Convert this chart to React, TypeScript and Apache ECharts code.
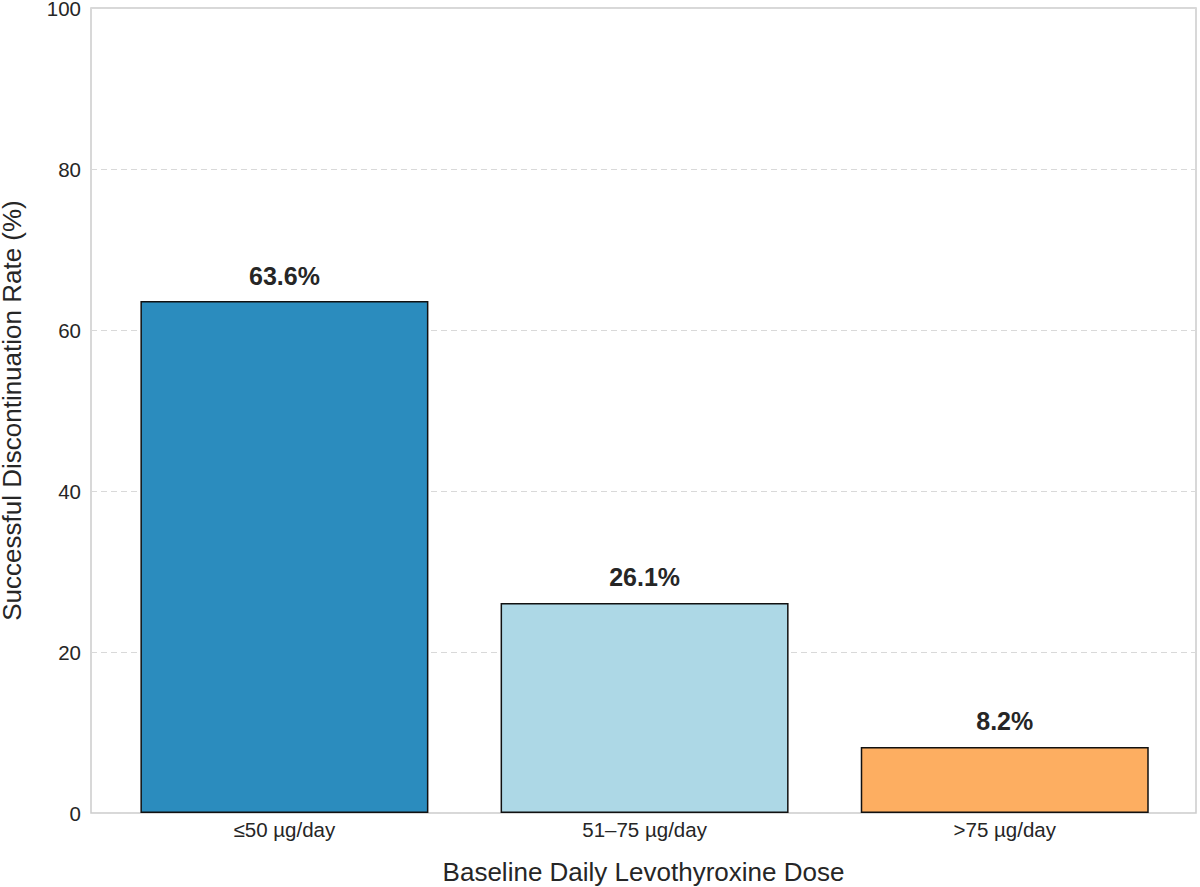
import React, { useEffect, useRef } from "react";
import * as echarts from "echarts";

const categories = ["≤50 µg/day", "51–75 µg/day", ">75 µg/day"];
const rates = [63.6, 26.1, 8.2];
const barColors = ["#2b8cbe", "#add8e6", "#fdae61"];
const yTicks = [0, 20, 40, 60, 80, 100];

export default function App() {
  const ref = useRef<HTMLDivElement>(null);
  useEffect(() => {
    document.body.style.margin = "0";
    const chart = echarts.init(ref.current!, null, { renderer: "svg" });
    const font = "Liberation Sans, Arial, sans-serif";
    chart.setOption({
      animation: false,
      backgroundColor: "#ffffff",
      grid: {
        left: 91,
        right: 4,
        top: 8,
        bottom: 74,
        outerBoundsMode: "none",
        containLabel: false,
        show: true,
        borderColor: "#cccccc",
        borderWidth: 1.5,
        backgroundColor: "transparent",
      },
      xAxis: {
        type: "value",
        min: -0.537,
        max: 2.531,
        name: "Baseline Daily Levothyroxine Dose",
        nameLocation: "middle",
        nameGap: 46,
        nameTextStyle: { fontFamily: font, fontSize: 26, color: "#262626" },
        axisLine: { show: false },
        axisTick: { show: false },
        splitLine: { show: false },
        axisLabel: {
          customValues: [0, 1, 2],
          formatter: (v: number) => categories[Math.round(v)] ?? "",
          fontFamily: font,
          fontSize: 20.5,
          color: "#262626",
          margin: 6,
        },
      },
      yAxis: {
        type: "value",
        min: 0,
        max: 100,
        interval: 20,
        name: "Successful Discontinuation Rate (%)",
        nameLocation: "middle",
        nameGap: 66,
        nameTextStyle: { fontFamily: font, fontSize: 26, color: "#262626" },
        axisLine: { show: false },
        axisTick: { show: false },
        axisLabel: {
          customValues: yTicks,
          fontFamily: font,
          fontSize: 20.5,
          color: "#262626",
          margin: 10,
        },
        splitLine: {
          show: true,
          lineStyle: { color: "#d9d9d9", width: 1.2, type: [6, 4] },
        },
      },
      series: [
        {
          type: "bar",
          barWidth: 288,
          data: rates.map((v, i) => ({
            value: [i, v],
            itemStyle: {
              color: barColors[i],
              borderColor: "#111111",
              borderWidth: 1.5,
            },
          })),
          label: {
            show: true,
            position: "top",
            distance: 13,
            formatter: (p: any) => p.value[1].toFixed(1) + "%",
            fontFamily: font,
            fontSize: 25,
            fontWeight: "bold",
            color: "#262626",
          },
        },
      ],
    });
    return () => chart.dispose();
  }, []);
  return <div ref={ref} style={{ width: 1200, height: 887 }} />;
}
